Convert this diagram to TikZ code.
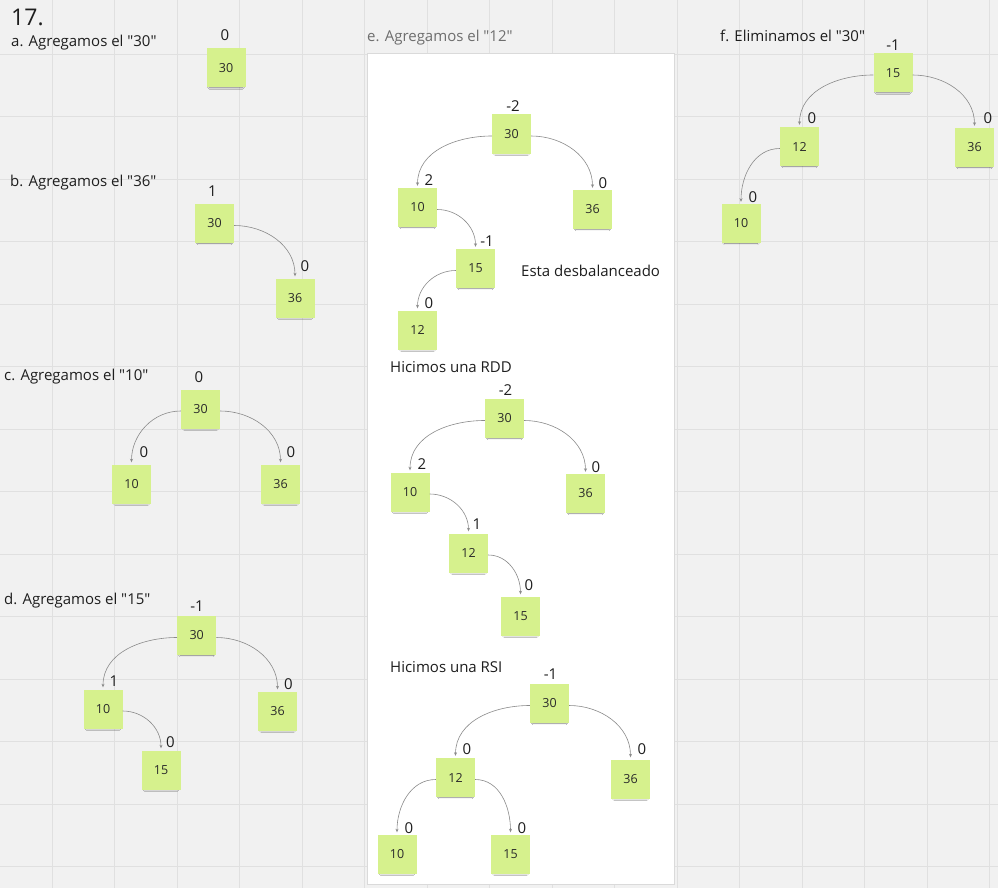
\documentclass[tikz,border=0pt]{standalone}
\usepackage{fontspec}
\setmainfont{Open Sans}[Ligatures=TeXOff]
\usetikzlibrary{arrows.meta,shadows.blur}

\definecolor{boardbg}{HTML}{F1F1F1}
\definecolor{gridline}{HTML}{E0E0E0}
\definecolor{notegreen}{HTML}{D6F18D}
\definecolor{inktext}{HTML}{1E1E1E}
\definecolor{notetext}{HTML}{2A2A2A}
\definecolor{linkgray}{HTML}{8A8A8A}
\definecolor{captiongray}{HTML}{6E6E6E}
\definecolor{paneledge}{HTML}{DADADA}

\tikzset{
  note/.style={rectangle, fill=notegreen, minimum size=39pt, inner sep=0pt,
    font=\fontsize{12.5}{14}\selectfont, text=notetext,
    blur shadow={shadow xshift=0pt, shadow yshift=-3.5pt, shadow scale=0.85,
      shadow opacity=50, shadow blur steps=6, shadow blur radius=2pt}},
  bal/.style={inner sep=0pt, font=\fontsize{15}{17}\selectfont, text=inktext},
  caption/.style={anchor=west, inner sep=0pt, font=\fontsize{15}{17}\selectfont, text=inktext},
  link/.style={draw=linkgray, line width=0.6pt, -{Stealth[length=3.5pt,width=3pt]}},
}

\begin{document}
\begin{tikzpicture}[x=1pt,y=-1pt]
  % board and grid
  \fill[boardbg] (0,0) rectangle (998,888);
  \useasboundingbox (0,0) rectangle (998,888);
  \foreach \k in {0,...,15} \draw[gridline, line width=0.9pt] ({52+62.5*\k},0) -- ({52+62.5*\k},888);
  \foreach \k in {0,...,13} \draw[gridline, line width=0.9pt] (0,{54+62.5*\k}) -- (998,{54+62.5*\k});

  % white frame for step e
  \fill[white, draw=paneledge, line width=0.8pt] (367,53) rectangle (674,884);

  % headings
  \node[anchor=west, inner sep=0pt, font=\fontsize{23}{26}\selectfont, text=inktext] (title) at (11,17) {17.};
  \node[caption] (capa) at (11,43) {a. Agregamos el "30"};
  \node[caption] (capb) at (10,183) {b. Agregamos el "36"};
  \node[caption] (capc) at (4,377) {c. Agregamos el "10"};
  \node[caption] (capd) at (4,601) {d. Agregamos el "15"};
  \node[caption, text=captiongray] (cape) at (367,38) {e. Agregamos el "12"};
  \node[caption] (capf) at (720,36) {f. Eliminamos el "30"};
  \node[caption] (unbal) at (521,271) {Esta desbalanceado};
  \node[caption] (rdd) at (390,367) {Hicimos una RDD};
  \node[caption] (rsi) at (390,667) {Hicimos una RSI};

  % a
  \node[note] (a30) at (226,68) {30};
  \node[bal] (ba30) at (225,35) {0};

  % b
  \node[note] (b30) at (214.5,223.5) {30};
  \node[note] (b36) at (295,298) {36};
  \node[bal] (bb30) at (212.5,191) {1};
  \node[bal] (bb36) at (305,266) {0};
  \draw[link] ([yshift=-2pt]b30.east) to[out=0,in=90] ([yshift=2pt]b36.north);

  % c
  \node[note] (c30) at (200.5,409) {30};
  \node[note] (c10) at (131.5,484) {10};
  \node[note] (c36) at (280.5,484) {36};
  \node[bal] (bc30) at (199,377) {0};
  \node[bal] (bc10) at (144,452) {0};
  \node[bal] (bc36) at (291,452) {0};
  \draw[link] ([yshift=-2pt]c30.west) to[out=180,in=90] ([yshift=2pt]c10.north);
  \draw[link] ([yshift=-2pt]c30.east) to[out=0,in=90] ([yshift=2pt]c36.north);

  % d
  \node[note] (d30) at (196.7,635.5) {30};
  \node[note] (d10) at (103,709) {10};
  \node[note] (d36) at (277.5,711) {36};
  \node[note] (d15) at (161,770) {15};
  \node[bal] (bd30) at (197,606) {-1};
  \node[bal] (bd10) at (114,681) {1};
  \node[bal] (bd36) at (288.5,684) {0};
  \node[bal] (bd15) at (170.5,742) {0};
  \draw[link] ([yshift=-2pt]d30.west) to[out=180,in=90] ([yshift=2pt]d10.north);
  \draw[link] ([yshift=-2pt]d30.east) to[out=0,in=90] ([yshift=2pt]d36.north);
  \draw[link] ([yshift=-2pt]d10.east) to[out=0,in=90] ([yshift=2pt]d15.north);

  % e, after inserting 12
  \node[note] (e30) at (511.5,134) {30};
  \node[note] (e10) at (417.5,207.5) {10};
  \node[note] (e36) at (592.5,209.5) {36};
  \node[note] (e15) at (475.5,268.5) {15};
  \node[note] (e12) at (417.5,330) {12};
  \node[bal] (be30) at (513,106) {-2};
  \node[bal] (be10) at (429,180) {2};
  \node[bal] (be36) at (603,183) {0};
  \node[bal] (be15) at (487,241) {-1};
  \node[bal] (be12) at (429,303) {0};
  \draw[link] ([yshift=-2pt]e30.west) to[out=180,in=90] ([yshift=2pt]e10.north);
  \draw[link] ([yshift=-2pt]e30.east) to[out=0,in=90] ([yshift=2pt]e36.north);
  \draw[link] ([yshift=-2pt]e10.east) to[out=0,in=90] ([yshift=2pt]e15.north);
  \draw[link] ([yshift=-2pt]e15.west) to[out=180,in=90] ([yshift=2pt]e12.north);

  % e, after the right rotation
  \node[note] (r30) at (504.5,418.5) {30};
  \node[note] (r10) at (410,492) {10};
  \node[note] (r36) at (585.5,493.5) {36};
  \node[note] (r12) at (468.5,553) {12};
  \node[note] (r15) at (520.5,616) {15};
  \node[bal] (br30) at (505.5,390) {-2};
  \node[bal] (br10) at (422,464) {2};
  \node[bal] (br36) at (596,467) {0};
  \node[bal] (br12) at (477,524) {1};
  \node[bal] (br15) at (529,585) {0};
  \draw[link] ([yshift=-2pt]r30.west) to[out=180,in=90] ([yshift=2pt]r10.north);
  \draw[link] ([yshift=-2pt]r30.east) to[out=0,in=90] ([yshift=2pt]r36.north);
  \draw[link] ([yshift=-2pt]r10.east) to[out=0,in=90] ([yshift=2pt]r12.north);
  \draw[link] ([yshift=-2pt]r12.east) to[out=0,in=90] ([yshift=2pt]r15.north);

  % e, after the left rotation
  \node[note] (s30) at (549.5,703.5) {30};
  \node[note] (s12) at (455.5,777.5) {12};
  \node[note] (s36) at (630.5,779) {36};
  \node[note] (s10) at (397,854) {10};
  \node[note] (s15) at (510.5,854) {15};
  \node[bal] (bs30) at (550.5,674) {-1};
  \node[bal] (bs12) at (467,749) {0};
  \node[bal] (bs36) at (642,749) {0};
  \node[bal] (bs10) at (409,828) {0};
  \node[bal] (bs15) at (522,828) {0};
  \draw[link] ([yshift=-2pt]s30.west) to[out=180,in=90] ([yshift=2pt]s12.north);
  \draw[link] ([yshift=-2pt]s30.east) to[out=0,in=90] ([yshift=2pt]s36.north);
  \draw[link] ([yshift=-2pt]s12.west) to[out=180,in=90] ([yshift=2pt]s10.north);
  \draw[link] ([yshift=-2pt]s12.east) to[out=0,in=90] ([yshift=2pt]s15.north);

  % f
  \node[note] (f15) at (893,73) {15};
  \node[note] (f12) at (799.5,146.5) {12};
  \node[note] (f36) at (974.5,147.5) {36};
  \node[note] (f10) at (741,223.5) {10};
  \node[bal] (bf15) at (893,45) {-1};
  \node[bal] (bf12) at (812,118) {0};
  \node[bal] (bf36) at (988,118) {0};
  \node[bal] (bf10) at (753,197) {0};
  \draw[link] ([yshift=-2pt]f15.west) to[out=180,in=90] ([yshift=2pt]f12.north);
  \draw[link] ([yshift=-2pt]f15.east) to[out=0,in=90] ([yshift=2pt]f36.north);
  \draw[link] ([yshift=-2pt]f12.west) to[out=180,in=90] ([yshift=2pt]f10.north);
\end{tikzpicture}
\end{document}
